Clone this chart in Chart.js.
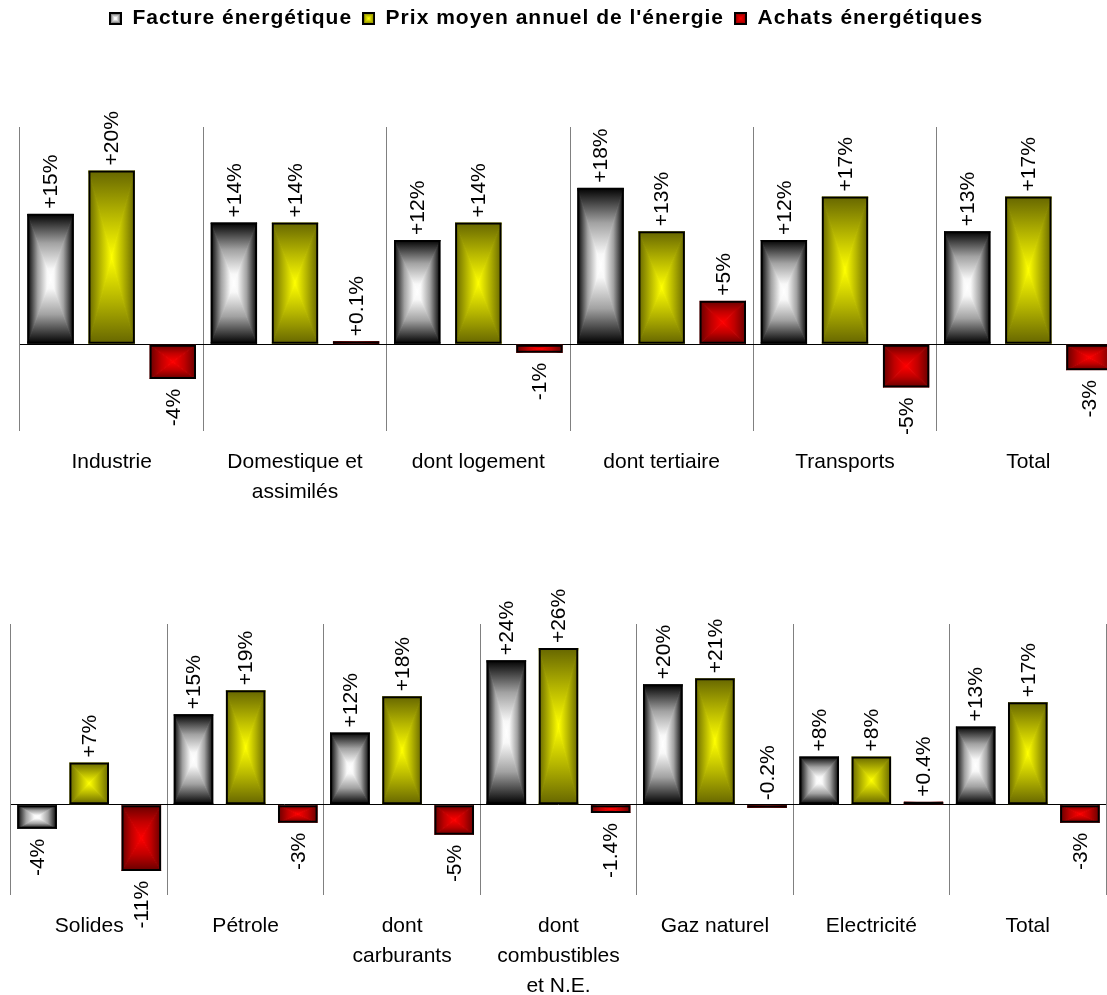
<!DOCTYPE html>
<html lang="fr">
<head>
<meta charset="utf-8">
<title>Facture énergétique</title>
<script src="https://cdn.jsdelivr.net/npm/chart.js@4.4.1/dist/chart.umd.min.js"></script>
<style>
  html, body { margin: 0; background: #fff; overflow: hidden; }
  body { width: 1107px; height: 995px; position: relative; }
  canvas { position: absolute; left: 0; }
  #secteurs { top: 0; }
  #energies { top: 560px; }
</style>
</head>
<body>
<canvas id="secteurs" width="1140" height="537"></canvas>
<canvas id="energies" width="1140" height="461"></canvas>
<script>
const series = ['Facture énergétique', "Prix moyen annuel de l'énergie", 'Achats énergétiques'];

// évolution par secteur (%)
const secteurs = ['Industrie', ['Domestique et', 'assimilés'], 'dont logement', 'dont tertiaire', 'Transports', 'Total'];
const factureSecteurs = [15, 14, 12, 18, 12, 13];
const prixSecteurs = [20, 14, 14, 13, 17, 17];
const achatsSecteurs = [-4, 0.1, -1, 5, -5, -3];

// évolution par énergie (%)
const energies = ['Solides', 'Pétrole', ['dont', 'carburants'], ['dont', 'combustibles', 'et N.E.'], 'Gaz naturel', 'Electricité', 'Total'];
const factureEnergies = [-4, 15, 12, 24, 20, 8, 13];
const prixEnergies = [7, 19, 18, 26, 21, 8, 17];
const achatsEnergies = [-11, -3, -5, -1.4, -0.2, 0.4, -3];

const FONT = '"Liberation Sans", Arial, sans-serif';

// arrêts du dégradé : du bord (0) vers le centre (1)
const teintes = [
  [[0, '#000000'], [0.45, '#a2a2a2'], [0.85, '#f8f8f8'], [1, '#ffffff']],
  [[0, '#666600'], [0.5, '#b4b400'], [1, '#ffff00']],
  [[0, '#660000'], [0.5, '#c00000'], [1, '#ff0000']],
];

function pct(v) {
  const s = Number.isInteger(v) ? String(Math.abs(v)) : Math.abs(v).toFixed(1);
  return (v < 0 ? '-' : '+') + s + '%';
}

// dégradé rectangulaire : bords sombres, centre clair
function degradeBoite(ctx, l, t, r, b, stops) {
  const cx = (l + r) / 2, cy = (t + b) / 2;
  const faces = [
    [l, t, r, t, cx, t],
    [l, b, r, b, cx, b],
    [l, t, l, b, l, cy],
    [r, t, r, b, r, cy],
  ];
  ctx.lineWidth = 1;
  for (const [x0, y0, x1, y1, gx, gy] of faces) {
    if (gx === cx && gy === cy) continue;
    const g = ctx.createLinearGradient(gx, gy, cx, cy);
    stops.forEach(([pos, c]) => g.addColorStop(pos, c));
    ctx.beginPath();
    ctx.moveTo(x0, y0);
    ctx.lineTo(x1, y1);
    ctx.lineTo(cx, cy);
    ctx.closePath();
    ctx.fillStyle = g;
    ctx.strokeStyle = g;
    ctx.fill();
    ctx.stroke();
  }
}

const pastilles = teintes.map(stops => {
  const c = document.createElement('canvas');
  c.width = 13;
  c.height = 13;
  const g = c.getContext('2d');
  g.save();
  g.beginPath();
  g.rect(0, 0, 13, 13);
  g.clip();
  degradeBoite(g, 0, 0, 13, 13, stops);
  g.restore();
  g.strokeStyle = '#000';
  g.lineWidth = 2;
  g.strokeRect(1, 1, 11, 11);
  return c;
});

// remplissage des barres (les bordures restent dessinées par Chart.js)
const remplissage = {
  id: 'remplissage',
  beforeDatasetsDraw(chart) {
    const ctx = chart.ctx;
    chart.data.datasets.forEach((ds, i) => {
      chart.getDatasetMeta(i).data.forEach(bar => {
        const { x, y, base, width } = bar.getProps(['x', 'y', 'base', 'width'], true);
        const l = x - width / 2, r = x + width / 2;
        const t = Math.min(y, base), b = Math.max(y, base);
        ctx.save();
        ctx.beginPath();
        ctx.rect(l, t, r - l, b - t);
        ctx.clip();
        degradeBoite(ctx, l, t, r, b, teintes[i]);
        ctx.restore();
      });
    });
  }
};

// étiquettes verticales des valeurs
const etiquettes = {
  id: 'etiquettes',
  afterDatasetsDraw(chart) {
    const ctx = chart.ctx;
    ctx.save();
    ctx.font = '21px ' + FONT;
    ctx.fillStyle = '#000';
    ctx.textBaseline = 'middle';
    chart.data.datasets.forEach((ds, i) => {
      chart.getDatasetMeta(i).data.forEach((bar, j) => {
        const v = ds.data[j];
        const { x, y, base } = bar.getProps(['x', 'y', 'base'], true);
        const dessous = v <= -1;
        ctx.save();
        ctx.translate(x + 1, dessous ? Math.max(y, base) + 10 : Math.min(y, base) - 5);
        ctx.rotate(-Math.PI / 2);
        ctx.textAlign = dessous ? 'right' : 'left';
        ctx.fillText(pct(v), 0, 0);
        ctx.restore();
      });
    });
    ctx.restore();
  }
};

// légende espacée, avec de la marge au-dessus du graphique
const legendeEspacee = {
  id: 'legendeEspacee',
  beforeInit(chart) {
    const lg = chart.legend;
    const fit = lg.fit;
    const draw = lg.draw;
    lg.fit = function () {
      chart.ctx.letterSpacing = '1px';
      fit.call(this);
      chart.ctx.letterSpacing = '0px';
      this.height += 86;
    };
    lg.draw = function () {
      const ctx = chart.ctx;
      ctx.save();
      ctx.letterSpacing = '1px';
      ctx.translate(-24, -2);
      draw.call(this);
      ctx.restore();
    };
  }
};

function jeux(facture, prix, achats) {
  return [facture, prix, achats].map((data, i) => ({
    label: series[i],
    data,
    backgroundColor: 'transparent',
    borderColor: '#000',
    borderWidth: 2,
    borderSkipped: false,
    minBarLength: 3,
    categoryPercentage: 1,
    barPercentage: 0.76,
  }));
}

function options(min, max, padding, legend) {
  return {
    responsive: false,
    animation: false,
    layout: { padding },
    plugins: {
      legend: legend || { display: false },
      tooltip: { enabled: false },
    },
    scales: {
      x: {
        grid: { offset: true, color: '#808080', lineWidth: 1, drawTicks: false },
        border: { display: false },
        ticks: {
          color: '#000',
          font: { family: FONT, size: 21, lineHeight: '30px' },
          padding: 16,
          maxRotation: 0,
          autoSkip: false,
        },
      },
      y: {
        min, max,
        ticks: { display: false, stepSize: 5 },
        border: { display: false },
        grid: {
          drawTicks: false,
          lineWidth: 1,
          color: c => (c.tick.value === 0 ? '#000' : 'transparent'),
        },
      },
    },
  };
}

new Chart(document.getElementById('secteurs'), {
  type: 'bar',
  data: { labels: secteurs, datasets: jeux(factureSecteurs, prixSecteurs, achatsSecteurs) },
  options: options(-10, 25, { left: 20, right: 20, top: 0, bottom: 14 }, {
    position: 'top',
    onClick: null,
    labels: {
      usePointStyle: true,
      boxWidth: 13,
      boxHeight: 13,
      padding: 10,
      color: '#000',
      font: { family: FONT, size: 21, weight: 'bold' },
      generateLabels: chart => chart.data.datasets.map((ds, i) => ({
        text: ds.label,
        pointStyle: pastilles[i],
        fillStyle: 'transparent',
        strokeStyle: 'transparent',
        lineWidth: 0,
        hidden: false,
        datasetIndex: i,
      })),
    },
  }),
  plugins: [legendeEspacee, remplissage, etiquettes],
});

new Chart(document.getElementById('energies'), {
  type: 'bar',
  data: { labels: energies, datasets: jeux(factureEnergies, prixEnergies, achatsEnergies) },
  options: options(-15, 30, { left: 11, right: 34, top: 64, bottom: 4 }),
  plugins: [remplissage, etiquettes],
});
</script>
</body>
</html>
